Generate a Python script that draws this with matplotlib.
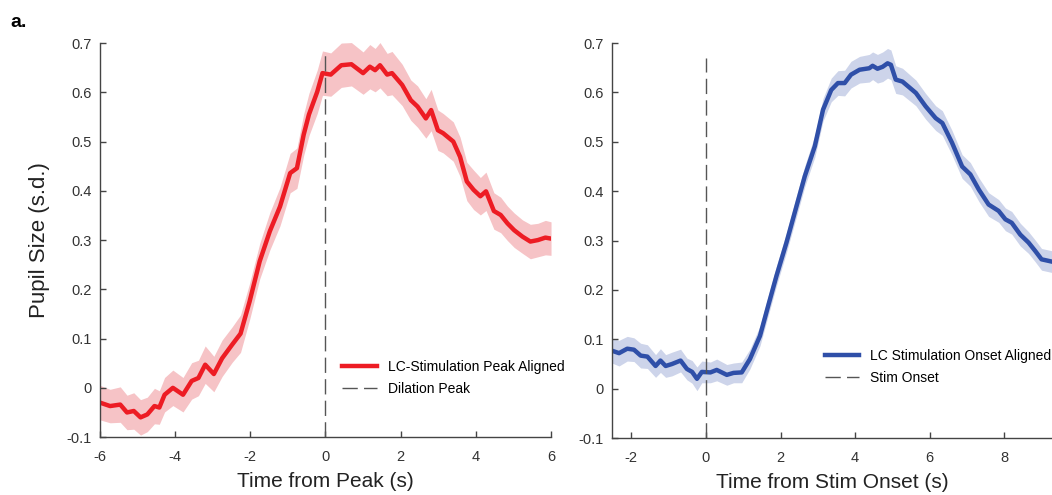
import numpy as np
import matplotlib
matplotlib.use("Agg")
import matplotlib.pyplot as plt

plt.rcParams['font.family'] = ['Liberation Sans', 'DejaVu Sans']
plt.rcParams['axes.unicode_minus'] = False

# left panel: aligned to dilation peak
peak_t = [-6.0, -5.73, -5.46, -5.28, -5.1, -4.92, -4.74, -4.55, -4.42, -4.28, -4.06,
          -3.79, -3.56, -3.38, -3.2, -2.97, -2.75, -2.48, -2.26, -2.02, -1.75, -1.48,
          -1.21, -0.94, -0.76, -0.58, -0.44, -0.22, -0.08, 0.14, 0.42, 0.69, 1.0, 1.18,
          1.32, 1.45, 1.64, 1.77, 2.04, 2.27, 2.45, 2.67, 2.81, 2.99, 3.13, 3.4, 3.58,
          3.76, 3.94, 4.12, 4.27, 4.48, 4.66, 4.84, 5.02, 5.24, 5.45, 5.65, 5.85, 6.0]
peak_mean = [-0.03, -0.037, -0.034, -0.05, -0.047, -0.06, -0.054, -0.037, -0.04, -0.014, 0.0,
             -0.014, 0.014, 0.02, 0.047, 0.028, 0.06, 0.088, 0.11, 0.175, 0.257, 0.318,
             0.368, 0.436, 0.446, 0.514, 0.555, 0.601, 0.639, 0.636, 0.655, 0.657, 0.639, 0.652,
             0.645, 0.655, 0.636, 0.639, 0.615, 0.584, 0.571, 0.547, 0.564, 0.523, 0.517, 0.5, 0.469,
             0.419, 0.402, 0.389, 0.399, 0.359, 0.351, 0.334, 0.32, 0.307, 0.297, 0.3, 0.305, 0.303]
peak_sem = [0.035, 0.034, 0.036, 0.035, 0.037, 0.036, 0.035, 0.036, 0.034, 0.035, 0.036,
            0.035, 0.037, 0.036, 0.038, 0.036, 0.037, 0.036, 0.038, 0.037, 0.036, 0.038,
            0.039, 0.04, 0.041, 0.042, 0.043, 0.044, 0.045, 0.044, 0.045, 0.044, 0.043, 0.045,
            0.044, 0.046, 0.043, 0.044, 0.042, 0.041, 0.042, 0.04, 0.042, 0.041, 0.04, 0.04, 0.04,
            0.039, 0.04, 0.038, 0.039, 0.037, 0.036, 0.035, 0.035, 0.034, 0.035, 0.034, 0.035, 0.034]

# right panel: aligned to stimulation onset
onset_t = [-2.52, -2.33, -2.11, -1.93, -1.75, -1.57, -1.35, -1.22, -1.08, -0.91, -0.68,
           -0.51, -0.37, -0.24, -0.11, 0.12, 0.29, 0.56, 0.74, 0.96, 1.18, 1.45, 1.67,
           1.89, 2.16, 2.43, 2.65, 2.92, 3.14, 3.36, 3.54, 3.72, 3.89, 4.12, 4.38, 4.47,
           4.6, 4.74, 4.87, 4.96, 5.09, 5.27, 5.63, 5.89, 6.16, 6.34, 6.6, 6.87, 7.09,
           7.32, 7.58, 7.85, 8.03, 8.2, 8.43, 8.65, 8.83, 9.0, 9.3]
onset_mean = [0.077, 0.072, 0.081, 0.079, 0.067, 0.065, 0.046, 0.057, 0.046, 0.05, 0.057,
              0.04, 0.034, 0.02, 0.034, 0.033, 0.038, 0.028, 0.032, 0.033, 0.06, 0.107, 0.168,
              0.228, 0.296, 0.37, 0.43, 0.491, 0.565, 0.605, 0.619, 0.619, 0.636, 0.646, 0.649, 0.654,
              0.648, 0.652, 0.659, 0.656, 0.626, 0.622, 0.599, 0.572, 0.548, 0.538, 0.498, 0.45, 0.434,
              0.403, 0.373, 0.36, 0.343, 0.336, 0.312, 0.296, 0.279, 0.262, 0.257]
onset_sem = [0.025, 0.026, 0.025, 0.024, 0.025, 0.024, 0.023, 0.024, 0.023, 0.024, 0.023,
             0.022, 0.023, 0.024, 0.022, 0.021, 0.022, 0.021, 0.02, 0.021, 0.02, 0.02, 0.02,
             0.02, 0.02, 0.021, 0.021, 0.022, 0.023, 0.024, 0.025, 0.026, 0.027, 0.027, 0.028, 0.028,
             0.029, 0.03, 0.03, 0.03, 0.028, 0.027, 0.026, 0.026, 0.025, 0.025, 0.025, 0.024, 0.024,
             0.024, 0.024, 0.023, 0.023, 0.023, 0.023, 0.022, 0.022, 0.022, 0.022]

red = '#ED1C24'
red_band = '#F6C3C6'
blue = '#2F4FA8'
blue_band = '#CDD4EA'
axis_col = '#444444'


def style_axes(ax):
    for s in ['top', 'right']:
        ax.spines[s].set_visible(False)
    for s in ['left', 'bottom']:
        ax.spines[s].set_color(axis_col)
        ax.spines[s].set_linewidth(1.0)
    ax.tick_params(direction='in', length=4, width=1, colors=axis_col,
                   labelcolor='#333333', labelsize=10.5)
    ax.tick_params(axis='x', pad=9)
    ax.tick_params(axis='y', pad=6)
    ax.set_ylim(-0.1, 0.7)
    ax.set_yticks(np.arange(-0.1, 0.71, 0.1))
    ax.set_yticklabels(['-0.1', '0', '0.1', '0.2', '0.3', '0.4', '0.5', '0.6', '0.7'])


fig = plt.figure(figsize=(10.52, 4.95), dpi=100)
ax1 = fig.add_axes([0.095, 0.117, 0.4288, 0.796])
ax2 = fig.add_axes([0.5817, 0.115, 0.4183, 0.798])

# left
pm = np.array(peak_mean)
ps = np.array(peak_sem)
ax1.fill_between(peak_t, pm - ps, pm + ps, color=red_band, lw=0)
ax1.plot(peak_t, pm, color=red, lw=3.2, label='LC-Stimulation Peak Aligned')
ax1.plot([0, 0], [-0.1, 0.68], color='#555555', lw=1, dashes=(11, 4.5), label='Dilation Peak')
ax1.set_xlim(-6, 6)
ax1.set_xticks([-6, -4, -2, 0, 2, 4, 6])
style_axes(ax1)
ax1.set_xlabel('Time from Peak (s)', fontsize=15, color='#222222', labelpad=6)
ax1.set_ylabel('Pupil Size (s.d.)', fontsize=16, color='#222222', labelpad=12)
ax1.legend(loc='upper left', bbox_to_anchor=(0.51, 0.228), frameon=False, fontsize=10,
           handlelength=2.5, handletextpad=0.75, labelspacing=0.6)

# right
om = np.array(onset_mean)
os_ = np.array(onset_sem)
ax2.fill_between(onset_t, om - os_, om + os_, color=blue_band, lw=0)
ax2.plot(onset_t, om, color=blue, lw=3.2, label='LC Stimulation Onset Aligned')
ax2.plot([0, 0], [-0.1, 0.67], color='#555555', lw=1, dashes=(11, 4.5), label='Stim Onset')
ax2.set_xlim(-2.52, 9.28)
ax2.set_xticks([-2, 0, 2, 4, 6, 8])
style_axes(ax2)
ax2.set_xlabel('Time from Stim Onset (s)', fontsize=15, color='#222222', labelpad=6)
ax2.legend(loc='upper left', bbox_to_anchor=(0.455, 0.258), frameon=False, fontsize=10,
           handlelength=2.5, handletextpad=0.75, labelspacing=0.6)

fig.text(0.01, 0.945, 'a.', fontsize=14, fontweight='bold')

fig.savefig('out.png', dpi=100)
